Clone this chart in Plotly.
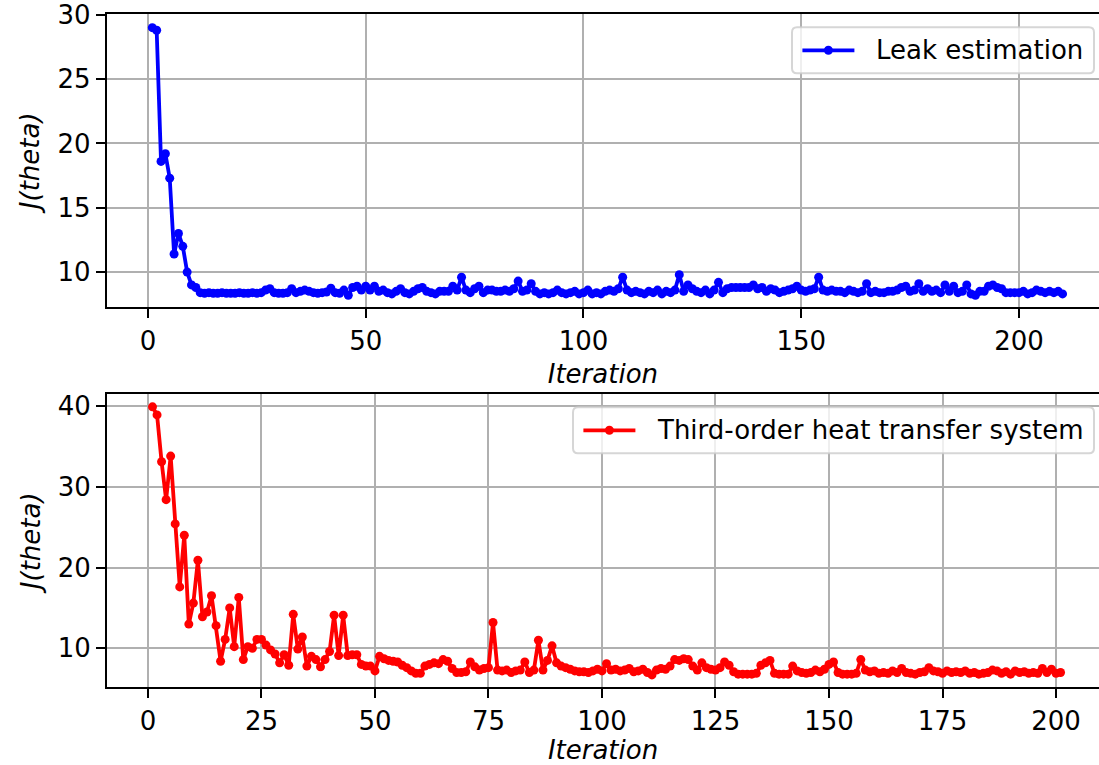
import plotly.graph_objects as go

# ---------------- data ----------------
leak_iter = list(range(1, 211))
leak_J = [
    29.0, 28.8, 18.6, 19.2, 17.3, 11.4, 13.0, 12.0, 10.0, 9.0,
    8.8, 8.4, 8.35, 8.4, 8.35, 8.35, 8.4, 8.35, 8.35, 8.35,
    8.4, 8.35, 8.35, 8.4, 8.35, 8.4, 8.6, 8.7, 8.4, 8.35,
    8.35, 8.4, 8.7, 8.4, 8.5, 8.6, 8.5, 8.4, 8.35, 8.4,
    8.45, 8.75, 8.4, 8.35, 8.6, 8.2, 8.8, 8.9, 8.6, 8.9,
    8.6, 8.9, 8.5, 8.6, 8.4, 8.3, 8.5, 8.7, 8.4, 8.3,
    8.5, 8.7, 8.8, 8.5, 8.4, 8.3, 8.5, 8.5, 8.5, 8.9,
    8.6, 9.6, 8.6, 8.4, 8.7, 8.9, 8.4, 8.6, 8.6, 8.5,
    8.5, 8.6, 8.5, 8.7, 9.3, 8.5, 8.6, 9.1, 8.5, 8.3,
    8.4, 8.3, 8.4, 8.6, 8.4, 8.3, 8.4, 8.5, 8.3, 8.4,
    8.6, 8.3, 8.4, 8.3, 8.5, 8.6, 8.5, 8.7, 9.6, 8.6,
    8.4, 8.5, 8.4, 8.3, 8.5, 8.4, 8.6, 8.3, 8.5, 8.4,
    8.6, 9.8, 8.5, 9.0, 8.7, 8.5, 8.4, 8.6, 8.3, 8.6,
    9.2, 8.4, 8.7, 8.8, 8.8, 8.8, 8.8, 8.8, 9.0, 8.7,
    8.8, 8.5, 8.7, 8.6, 8.4, 8.5, 8.6, 8.7, 8.9, 8.6,
    8.5, 8.6, 8.7, 9.6, 8.6, 8.5, 8.6, 8.5, 8.5, 8.4,
    8.6, 8.5, 8.4, 8.5, 9.1, 8.4, 8.5, 8.4, 8.4, 8.5,
    8.5, 8.6, 8.8, 8.9, 8.5, 8.6, 9.1, 8.5, 8.7, 8.5,
    8.6, 8.4, 9.0, 8.5, 8.9, 8.4, 8.5, 9.0, 8.3, 8.2,
    8.5, 8.5, 8.9, 9.0, 8.8, 8.7, 8.4, 8.4, 8.4, 8.4,
    8.5, 8.3, 8.4, 8.6, 8.5, 8.4, 8.5, 8.4, 8.5, 8.3,
]

heat_iter = list(range(1, 202))
heat_J = [
    39.9, 38.9, 33.1, 28.4, 33.8, 25.4, 17.6, 24.0, 13.0, 15.6,
    20.9, 13.9, 14.5, 16.5, 12.8, 8.4, 11.1, 15.0, 10.2, 16.3,
    8.6, 10.2, 10.0, 11.1, 11.1, 10.4, 9.8, 9.3, 8.2, 9.2,
    7.9, 14.2, 9.9, 11.4, 7.8, 9.0, 8.6, 7.7, 8.6, 9.6,
    14.1, 9.1, 14.1, 9.1, 9.2, 9.2, 8.0, 7.8, 7.8, 7.2,
    9.0, 8.7, 8.5, 8.4, 8.3, 7.9, 7.6, 7.2, 6.9, 6.9,
    7.8, 8.0, 8.2, 8.1, 8.6, 8.4, 7.5, 7.0, 7.0, 7.1,
    8.3, 7.7, 7.3, 7.5, 7.6, 13.2, 7.3, 7.2, 7.3, 7.0,
    7.2, 7.3, 8.3, 7.0, 7.3, 11.0, 7.3, 8.5, 10.3, 8.2,
    7.8, 7.6, 7.4, 7.2, 7.1, 7.1, 7.0, 7.2, 7.4, 7.2,
    8.1, 7.3, 7.4, 7.2, 7.3, 7.5, 7.1, 7.2, 7.4, 7.0,
    6.7, 7.3, 7.5, 7.4, 7.8, 8.6, 8.5, 8.7, 8.6, 7.8,
    7.3, 8.2, 7.6, 7.4, 7.3, 7.6, 8.3, 7.9, 7.1, 6.8,
    6.8, 6.8, 6.8, 6.9, 7.9, 8.2, 8.5, 6.9, 6.8, 6.8,
    6.8, 7.8, 7.2, 7.0, 6.9, 7.0, 7.3, 7.1, 7.4, 8.0,
    8.3, 7.0, 6.8, 6.8, 6.8, 6.9, 8.6, 7.3, 7.1, 7.2,
    6.9, 7.0, 6.9, 7.2, 7.0, 7.5, 7.0, 6.9, 6.8, 7.0,
    7.1, 7.6, 7.2, 7.1, 6.9, 7.2, 7.0, 7.1, 7.0, 7.2,
    6.9, 7.0, 6.8, 6.9, 7.0, 7.3, 7.2, 6.9, 7.1, 6.8,
    7.2, 7.0, 7.1, 6.9, 7.0, 6.9, 7.5, 7.0, 7.4, 6.9,
    7.0,
]

top_xticks = [0, 50, 100, 150, 200]
top_yticks = [10, 15, 20, 25, 30]
bot_xticks = [0, 25, 50, 75, 100, 125, 150, 175, 200]
bot_yticks = [10, 20, 30, 40]

legend_top = "Leak estimation"
legend_bot = "Third-order heat transfer system"
xlabel = "Iteration"
ylabel = "J(theta)"

# ---------------- layout helpers ----------------
W, H = 1099, 765
FONT = "DejaVu Sans"
FS = 26


def PX(px):
    return px / W


def PY(py):
    return 1 - py / H


# axes rectangles (pixels): left, top, bottom
top_ax = dict(left=106.8, top=14.3, bottom=307.3)
bot_ax = dict(left=107.1, top=394.3, bottom=687.3)

fig = go.Figure()
fig.add_trace(go.Scatter(
    x=leak_iter, y=leak_J, mode="lines+markers", name=legend_top,
    line=dict(color="#0000ff", width=3.8),
    marker=dict(color="#0000ff", size=9),
    xaxis="x", yaxis="y", showlegend=False,
))
fig.add_trace(go.Scatter(
    x=heat_iter, y=heat_J, mode="lines+markers", name=legend_bot,
    line=dict(color="#ff0000", width=3.8),
    marker=dict(color="#ff0000", size=9),
    xaxis="x2", yaxis="y2", showlegend=False,
))

axis_common = dict(
    showline=True, linecolor="black", linewidth=2,
    ticks="outside", ticklen=9, tickwidth=2, tickcolor="black",
    showgrid=True, gridcolor="#b0b0b0", gridwidth=2,
    zeroline=False, automargin=False, ticklabeloverflow="allow",
    tickfont=dict(family=FONT, size=FS, color="black"),
)
title_font = dict(family=FONT, size=FS, color="black", style="italic")

fig.update_layout(
    width=W, height=H, autosize=False,
    margin=dict(l=0, r=0, t=0, b=0, pad=0, autoexpand=False),
    paper_bgcolor="white", plot_bgcolor="white",
    xaxis=dict(
        axis_common, domain=[PX(top_ax["left"]), 1.0],
        range=[-9.45, 218.37], tickmode="array", tickvals=top_xticks,
        mirror=True, anchor="y",
        title=dict(text=xlabel, font=title_font, standoff=10),
    ),
    yaxis=dict(
        axis_common, domain=[PY(top_ax["bottom"]), PY(top_ax["top"])],
        range=[7.26, 30.04], tickmode="array", tickvals=top_yticks,
        mirror=False, anchor="x",
        title=dict(text=ylabel, font=title_font, standoff=10),
    ),
    xaxis2=dict(
        axis_common, domain=[PX(bot_ax["left"]), 1.0],
        range=[-9.0, 209.47], tickmode="array", tickvals=bot_xticks,
        mirror=True, anchor="y2",
        title=dict(text=xlabel, font=title_font, standoff=12),
    ),
    yaxis2=dict(
        axis_common, domain=[PY(bot_ax["bottom"]), PY(bot_ax["top"])],
        range=[5.17, 41.45], tickmode="array", tickvals=bot_yticks,
        mirror=False, anchor="x2",
        title=dict(text=ylabel, font=title_font, standoff=10),
    ),
    showlegend=False,
)


# ---------------- matplotlib-style legends (drawn) ----------------
def rounded_box(x0, y0, x1, y1, r=5):
    pts = [
        f"M{PX(x0 + r)},{PY(y0)}",
        f"L{PX(x1 - r)},{PY(y0)}",
        f"Q{PX(x1)},{PY(y0)} {PX(x1)},{PY(y0 + r)}",
        f"L{PX(x1)},{PY(y1 - r)}",
        f"Q{PX(x1)},{PY(y1)} {PX(x1 - r)},{PY(y1)}",
        f"L{PX(x0 + r)},{PY(y1)}",
        f"Q{PX(x0)},{PY(y1)} {PX(x0)},{PY(y1 - r)}",
        f"L{PX(x0)},{PY(y0 + r)}",
        f"Q{PX(x0)},{PY(y0)} {PX(x0 + r)},{PY(y0)}",
        "Z",
    ]
    return " ".join(pts)


def add_legend(label, color, right, top, width, height=46):
    left = right - width
    bottom = top + height
    cy = (top + bottom) / 2
    fig.add_shape(type="path", xref="paper", yref="paper",
                  path=rounded_box(left, top, right, bottom),
                  fillcolor="rgba(255,255,255,0.8)",
                  line=dict(color="rgba(204,204,204,0.8)", width=2),
                  layer="above")
    h0 = left + 10.4
    h1 = h0 + 52
    fig.add_shape(type="line", xref="paper", yref="paper",
                  x0=PX(h0), x1=PX(h1), y0=PY(cy), y1=PY(cy),
                  line=dict(color=color, width=3.8), layer="above")
    mr = 4.5
    hc = (h0 + h1) / 2
    fig.add_shape(type="circle", xref="paper", yref="paper",
                  x0=PX(hc - mr), x1=PX(hc + mr), y0=PY(cy - mr), y1=PY(cy + mr),
                  fillcolor=color, line=dict(color=color, width=0), layer="above")
    fig.add_annotation(text=label, xref="paper", yref="paper",
                       x=PX(h1 + 20.8), y=PY(cy), xanchor="left", yanchor="middle",
                       showarrow=False, borderpad=0,
                       font=dict(family=FONT, size=FS, color="black"))


add_legend(legend_top, "#0000ff", right=1094, top=top_ax["top"] + 13, width=302)
add_legend(legend_bot, "#ff0000", right=1094, top=bot_ax["top"] + 13, width=521)

fig.write_html("out.html")
